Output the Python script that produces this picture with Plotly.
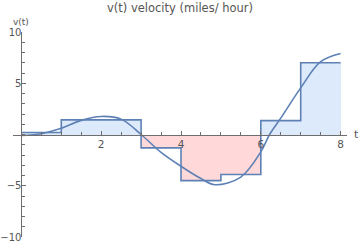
import plotly.graph_objects as go

# Step (Riemann-like) approximation: interval edges and values
step_edges = [0, 1, 3, 4, 5, 6, 7, 8]
step_values = [0.2, 1.43, -1.3, -4.5, -3.9, 1.35, 7.0]

# Smooth velocity curve samples
curve_t = [0, 0.5, 1, 1.5, 2, 2.5, 3, 3.5, 4, 4.5, 4.85, 5.5, 6, 6.22, 6.5, 7, 7.5, 8]
curve_v = [-0.1, 0.07, 0.6, 1.38, 1.76, 1.5, 0.0, -1.75, -3.1, -4.3, -4.9, -4.15, -1.7, 0.0, 1.6, 4.55, 7.1, 7.9]

x_ticks = [2, 4, 6, 8]
y_ticks = [-10, -5, 5, 10]
x_range = [-0.21, 8.16]
y_range = [-10, 10]

title_text = "v(t) velocity (miles/ hour)"
y_label = "v(t)"
x_label = "t"

line_col = "rgb(94,129,181)"
pos_fill = "rgb(220,234,251)"
neg_fill = "rgb(255,217,217)"
axis_col = "rgb(110,110,110)"
text_col = "rgb(85,85,85)"

mids = [(a + b) / 2 for a, b in zip(step_edges[:-1], step_edges[1:])]
widths = [b - a for a, b in zip(step_edges[:-1], step_edges[1:])]
colors = [pos_fill if v >= 0 else neg_fill for v in step_values]

fig = go.Figure()
fig.add_trace(go.Bar(x=mids, y=step_values, width=widths, base=0,
                     marker=dict(color=colors, line=dict(width=0)),
                     hoverinfo="skip", showlegend=False))
fig.add_trace(go.Scatter(x=step_edges, y=step_values + [step_values[-1]],
                         mode="lines", line=dict(color=line_col, width=1.6, shape="hv"),
                         showlegend=False))
fig.add_trace(go.Scatter(x=curve_t, y=curve_v, mode="lines",
                         line=dict(color=line_col, width=1.6, shape="spline", smoothing=1.0),
                         showlegend=False))

ypos = (0 - x_range[0]) / (x_range[1] - x_range[0])

fig.update_layout(
    width=360, height=244,
    margin=dict(l=13, r=13, t=32, b=7, autoexpand=False),
    paper_bgcolor="white", plot_bgcolor="white",
    barmode="overlay", bargap=0,
    font=dict(family="DejaVu Sans", color=text_col, size=10),
    title=dict(text=title_text, x=0.5, xanchor="center", y=0.985, yanchor="top",
               font=dict(size=11.5, color=text_col)),
    xaxis=dict(range=x_range, anchor="free", position=0.5, showgrid=False, zeroline=False,
               automargin=False,
               showline=True, linecolor=axis_col, linewidth=1,
               tickmode="array", tickvals=x_ticks, ticks="inside", ticklen=4,
               tickcolor=axis_col, tickwidth=1, tickfont=dict(size=10.5, color=text_col),
               minor=dict(dtick=0.5, tick0=0, ticks="inside", ticklen=2.5, tickcolor=axis_col, showgrid=False)),
    yaxis=dict(range=y_range, anchor="free", position=ypos, showgrid=False, zeroline=False,
               automargin=False, ticklabelstandoff=-2,
               showline=True, linecolor=axis_col, linewidth=1,
               tickmode="array", tickvals=y_ticks, ticks="inside", ticklen=4,
               tickcolor=axis_col, tickwidth=1, tickfont=dict(size=10, color=text_col),
               minor=dict(dtick=1, tick0=0, ticks="inside", ticklen=2.5, tickcolor=axis_col, showgrid=False)),
    annotations=[
        dict(text=y_label, x=0, y=y_range[1], xref="x", yref="y", showarrow=False,
             xanchor="center", yanchor="bottom", yshift=3, font=dict(size=9, color=text_col)),
        dict(text=x_label, x=x_range[1], y=0, xref="x", yref="y", showarrow=False,
             xanchor="left", yanchor="middle", xshift=5, font=dict(size=11, color=text_col)),
    ],
)

fig.write_html("out.html")
